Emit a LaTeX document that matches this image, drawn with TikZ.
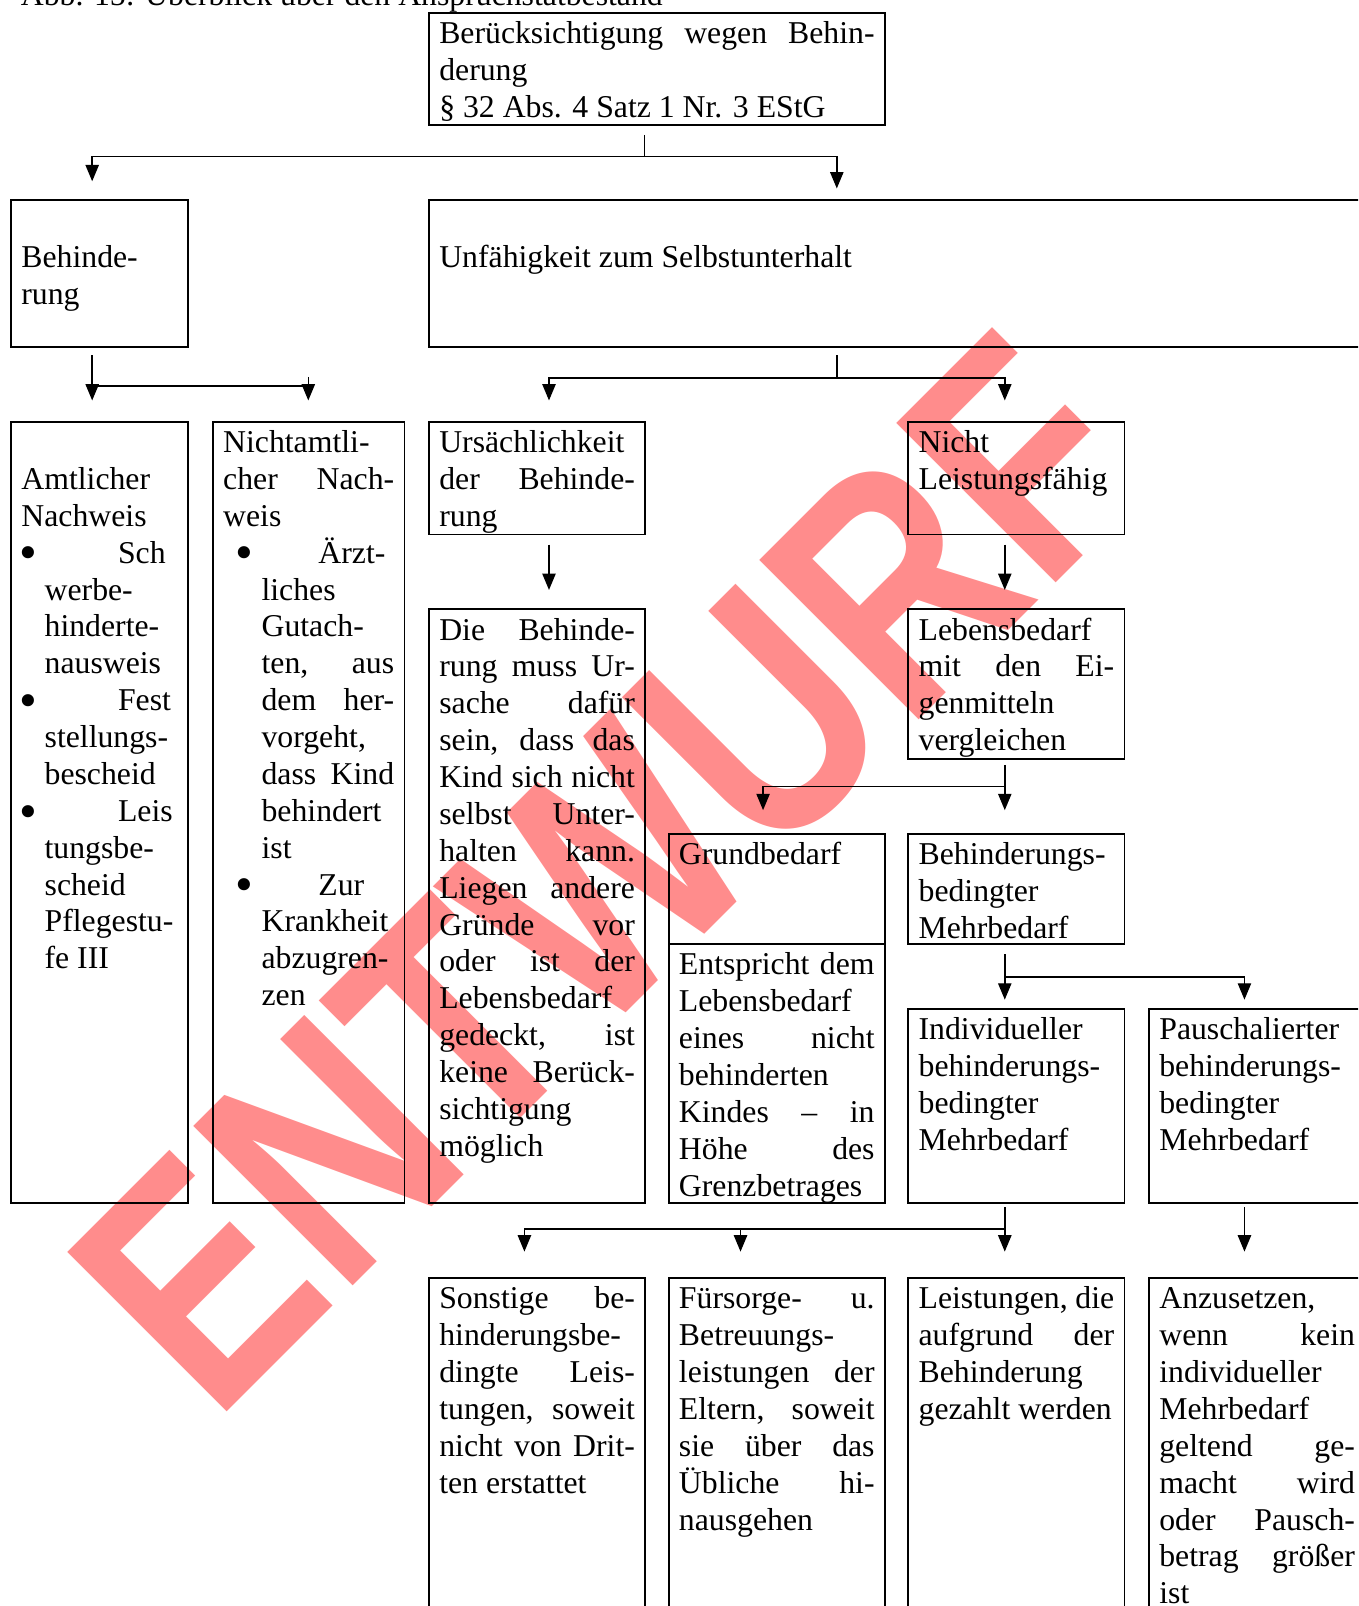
\documentclass[tikz,border=0pt]{standalone}
\usepackage{fontspec}
\usepackage{graphicx}
\setmainfont{Liberation Serif}
\newfontfamily\wmfont{Liberation Sans}
\usetikzlibrary{arrows.meta}
\tikzset{
  kasten/.style 2 args={draw, line width=0.9pt, anchor=north west,
    inner xsep=5pt, inner ysep=0pt, align=justify,
    text width=#1, text height=15pt, text depth=#2},
  linie/.style={line width=0.7pt},
  pfeil/.style={line width=0.7pt, -{Triangle[width=6.5pt,length=8pt]}}
}
\tolerance=10000 \hbadness=10000 \hyphenpenalty=10000 \exhyphenpenalty=10000
\begin{document}
\begin{tikzpicture}[x=0.5pt,y=-0.5pt,font=\fontsize{15.5}{18}\selectfont]
  \def\dot{\raisebox{-3.3pt}{\scalebox{1.6}{•}}}
  \def\punktA{\par\hangindent=11.35pt\hangafter=1\makebox[47.2pt][l]{\hspace{-1.1pt}\dot}}
  \def\punktB{\par\hangindent=18.75pt\hangafter=1\makebox[46.5pt][l]{\hspace{5.95pt}\dot}}
  \useasboundingbox (0,0) rectangle (1326,1568);
  \clip (0,0) rectangle (1326,1568);
  % Wasserzeichen
  \begin{scope}[shift={(209,1391)}]
    \node[anchor=base west, inner sep=0pt, rotate=45, xscale=0.815, text=red!45,
      font=\wmfont\bfseries\fontsize{160}{160}\selectfont] (wm) at (0,0) {ENTWURF};
  \end{scope}
  \node[anchor=base west, inner sep=0pt] (abb) at (20,5.5) {Abb. 15: Überblick über den Anspruchstatbestand};
  % Kaesten
  \node[kasten={212.5pt}{39.5pt}] (top) at (418,12)
    {Berücksichtigung wegen Behin-\linebreak derung\\ § 32 Abs. 4 Satz 1 Nr. 3 EStG};
  \node[kasten={76.5pt}{57pt}] (beh) at (10,194) {\mbox{}\\ Behinde-\\ rung};
  \node[kasten={451pt}{57pt}] (unf) at (418,194) {\mbox{}\\ Unfähigkeit zum Selbstunterhalt};
  \node[kasten={76.5pt}{366.5pt}] (amt) at (10,411)
    {\mbox{}\\ Amtlicher\\ Nachweis
     \punktA Sch\\ werbe-\\ hinderte-\\ nausweis
     \punktA Fest\\ stellungs-\\ bescheid
     \punktA Leis\\ tungsbe-\\ scheid\\ Pflegestu-\\ fe III\par};
  \node[kasten={83.5pt}{366.5pt}] (namt) at (207,411)
    {Nichtamtli-\\ cher Nach-\linebreak weis
     \punktB Ärzt-\\ liches\\ Gutach-\\ ten, aus\linebreak dem her-\linebreak vorgeht,\\
       dass Kind\linebreak behindert\\ ist
     \punktB Zur\\ Krankheit\\ abzugren-\\ zen\par};
  \node[kasten={95.5pt}{40pt}] (urs) at (418,411) {Ursächlichkeit\\ der Behinde-\linebreak rung};
  \node[kasten={95.5pt}{40pt}] (nlf) at (886,411) {Nicht\\ Leistungsfähig};
  \node[kasten={95.5pt}{275pt}] (ursache) at (418,594)
    {Die Behinde-\linebreak rung muss Ur-\linebreak sache dafür\linebreak sein, dass das\linebreak
     Kind sich nicht\linebreak selbst Unter-\linebreak halten kann.\linebreak Liegen andere\linebreak
     Gründe vor\linebreak oder ist der\linebreak Lebensbedarf\\ gedeckt, ist\linebreak
     keine Berück-\linebreak sichtigung\\ möglich};
  \node[kasten={95.5pt}{58pt}] (leb) at (886,594)
    {Lebensbedarf\\ mit den Ei-\linebreak genmitteln\\ vergleichen};
  \node[kasten={95.5pt}{39pt}] (grund) at (652,813) {Grundbedarf};
  \node[kasten={95.5pt}{111.5pt}] (entspr) at (652,921)
    {Entspricht dem\linebreak Lebensbedarf\\ eines nicht\linebreak behinderten\\
     Kindes – in\linebreak Höhe des\linebreak Grenzbetrages};
  \node[kasten={95.5pt}{39pt}] (mehr) at (886,813) {Behinderungs-\\ bedingter\\ Mehrbedarf};
  \node[kasten={95.5pt}{80pt}] (indiv) at (886,984)
    {Individueller\\ behinderungs-\\ bedingter\\ Mehrbedarf};
  \node[kasten={95.5pt}{80pt}] (pausch) at (1121,984)
    {Pauschalierter\\ behinderungs-\\ bedingter\\ Mehrbedarf};
  \node[kasten={95.5pt}{171.5pt}] (sonst) at (418,1247)
    {Sonstige be-\linebreak hinderungsbe-\\ dingte Leis-\linebreak tungen, soweit\linebreak
     nicht von Drit-\linebreak ten erstattet};
  \node[kasten={95.5pt}{171.5pt}] (fuer) at (652,1247)
    {Fürsorge- u.\linebreak Betreuungs-\\ leistungen der\linebreak Eltern, soweit\linebreak
     sie über das\linebreak Übliche hi-\linebreak nausgehen};
  \node[kasten={95.5pt}{171.5pt}] (leist) at (886,1247)
    {Leistungen, die\linebreak aufgrund der\linebreak Behinderung\\ gezahlt werden};
  \node[kasten={95.5pt}{171.5pt}] (anz) at (1121,1247)
    {Anzusetzen,\\ wenn kein\linebreak individueller\\ Mehrbedarf\\ geltend ge-\linebreak
     macht wird\linebreak oder Pausch-\linebreak betrag größer\linebreak ist};
  % Verbindungen
  \coordinate (j1) at (629,153);
  \coordinate (j2) at (90,377);
  \coordinate (k2) at (301,368);
  \coordinate (j3) at (817,369);
  \coordinate (j6) at (981,768);
  \coordinate (j7) at (981,954);
  \coordinate (j8) at (981,1200);
  \draw[linie] ([shift={(211,9)}]top.south west) -- (j1);
  \draw[pfeil] (j1) -| ([shift={(80,-17)}]beh.north west);
  \draw[pfeil] (j1) -| ([shift={(399,-10)}]unf.north west);
  \draw[pfeil] ([shift={(80,7)}]beh.south west) -- ([shift={(80,-20)}]amt.north west);
  \draw[linie] (j2) -| (k2);
  \draw[pfeil] (k2) -- ([shift={(94,-20)}]namt.north west);
  \draw[linie] ([shift={(399,7)}]unf.south west) -- (j3);
  \draw[pfeil] (j3) -| ([shift={(118,-20)}]urs.north west);
  \draw[pfeil] (j3) -| ([shift={(95,-20)}]nlf.north west);
  \draw[pfeil] ([shift={(118,9)}]urs.south west) -- ([shift={(118,-18)}]ursache.north west);
  \draw[pfeil] ([shift={(95,9)}]nlf.south west) -- ([shift={(95,-18)}]leb.north west);
  \draw[pfeil] ([shift={(95,5)}]leb.south west) -- ([shift={(95,-22)}]mehr.north west);
  \draw[pfeil] (j6) -| ([shift={(93,-22)}]grund.north west);
  \draw[pfeil] ([shift={(95,9)}]mehr.south west) -- ([shift={(95,-8)}]indiv.north west);
  \draw[pfeil] (j7) -| ([shift={(94,-8)}]pausch.north west);
  \draw[pfeil] ([shift={(95,3)}]indiv.south west) -- ([shift={(95,-25)}]leist.north west);
  \draw[pfeil] (j8) -| ([shift={(94,-25)}]sonst.north west);
  \draw[pfeil] (j8) -| ([shift={(71,-25)}]fuer.north west);
  \draw[pfeil] ([shift={(94,3)}]pausch.south west) -- ([shift={(94,-25)}]anz.north west);
\end{tikzpicture}
\end{document}
